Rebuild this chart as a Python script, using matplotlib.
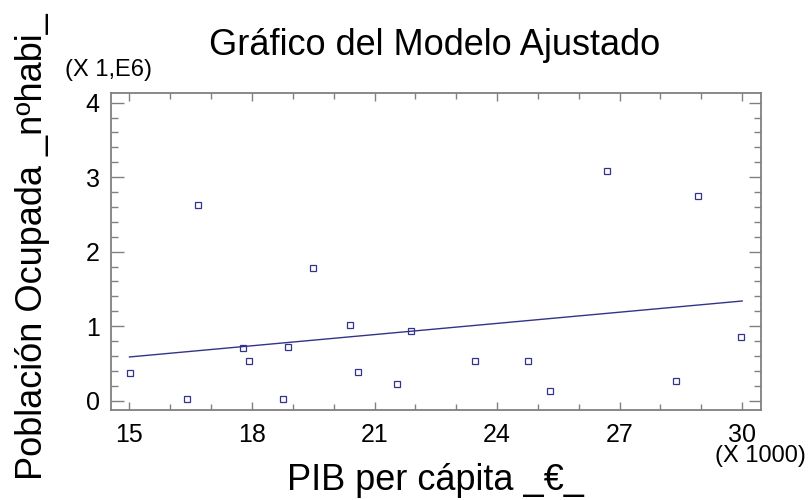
import matplotlib
matplotlib.use('Agg')
import matplotlib.pyplot as plt
from matplotlib.ticker import MultipleLocator

plt.rcParams['font.family'] = ['Liberation Sans', 'DejaVu Sans']

# PIB per capita (x 1000) and poblacion ocupada (x 1e6)
pib = [15.02, 16.42, 16.67, 17.79, 17.92, 18.77, 18.88, 19.50, 20.41, 20.60,
       21.55, 21.88, 23.45, 24.75, 25.29, 26.68, 28.37, 28.93, 29.98]
pob = [0.376, 0.02, 2.62, 0.71, 0.53, 0.02, 0.725, 1.785, 1.02, 0.385,
       0.23, 0.94, 0.53, 0.53, 0.134, 3.08, 0.26, 2.75, 0.86]

# fitted model line (end points)
fit_x = [15.0, 30.0]
fit_y = [0.587, 1.338]

x_ticks = [15, 18, 21, 24, 27, 30]
y_ticks = [0, 1, 2, 3, 4]

navy = '#33338a'
grey = '#808080'

fig = plt.figure(figsize=(8.11, 5.00), dpi=100)
ax = fig.add_axes([0.1365, 0.18, 0.8018, 0.6334])

ax.plot(fit_x, fit_y, color=navy, lw=1.0)
ax.plot(pib, pob, linestyle='none', marker='s', markersize=4.5,
        markerfacecolor='none', markeredgecolor=navy, markeredgewidth=0.9)

ax.set_xlim(14.54, 30.46)
ax.set_ylim(-0.125, 4.126)
ax.set_xticks(x_ticks)
ax.set_yticks(y_ticks)
ax.xaxis.set_minor_locator(MultipleLocator(1))
ax.yaxis.set_minor_locator(MultipleLocator(0.2))

for s in ax.spines.values():
    s.set_color(grey)
    s.set_linewidth(1.3)

ax.tick_params(which='both', direction='in', top=True, right=True,
               color=grey, labelsize=18, width=1.0)
ax.tick_params(axis='x', which='major', length=6, pad=9)
ax.tick_params(axis='x', which='minor', length=4)
ax.tick_params(axis='y', which='major', length=9, pad=8)
ax.tick_params(axis='y', which='minor', length=5)

fig.text(0.536, 0.89, 'Gráfico del Modelo Ajustado', fontsize=26,
         ha='center', va='baseline')
fig.text(0.537, 0.005, 'PIB per cápita _€_', fontsize=26,
         ha='center', va='bottom')
fig.text(0.04, 0.04, 'Población Ocupada _nºhabi_', fontsize=26,
         rotation=90, ha='center', va='bottom')
fig.text(65 / 811, 0.86, '(X 1,E6)', fontsize=17, ha='left', va='center')
fig.text(760 / 811, 0.088, '(X 1000)', fontsize=17, ha='center', va='center')

fig.savefig('out.png', dpi=100)
